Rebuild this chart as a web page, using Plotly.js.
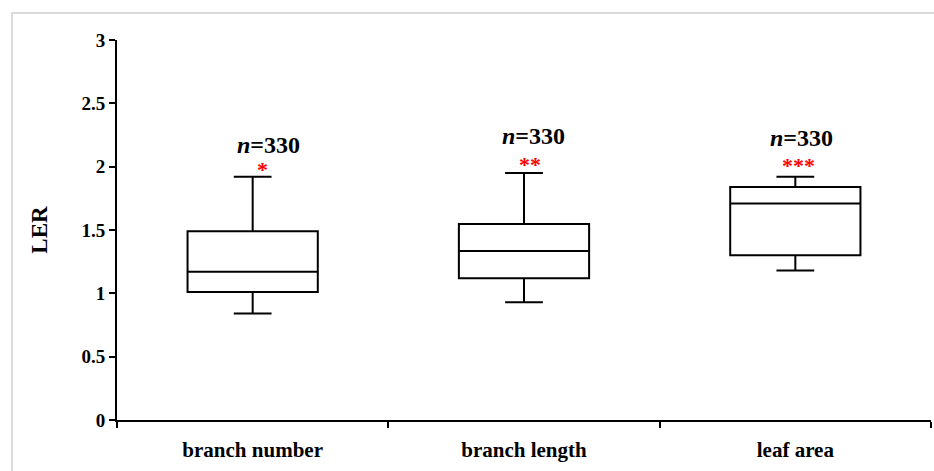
<!DOCTYPE html>
<html>
<head>
<meta charset="utf-8">
<script src="https://cdn.plot.ly/plotly-3.0.1.min.js"></script>
<style>
  html, body { margin: 0; padding: 0; background: #ffffff; }
  #wrap { position: relative; width: 934px; height: 471px; overflow: hidden; }
  #chart { position: absolute; left: 0; top: 0; width: 934px; height: 471px; }
  #frame { position: absolute; left: 11px; top: 12px; width: 1000px; height: 600px;
           border-left: 2px solid #dadada; border-top: 2px solid #dadada; pointer-events: none; }
</style>
</head>
<body>
<div id="wrap">
  <div id="chart"></div>
  <div id="frame"></div>
</div>
<script>
// ---- data ----
const categories = ["branch number", "branch length", "leaf area"];
const lowerWhisker = [0.84, 0.93, 1.18];
const q1Values     = [1.01, 1.12, 1.30];
const medianValues = [1.17, 1.335, 1.71];
const q3Values     = [1.49, 1.547, 1.84];
const upperWhisker = [1.92, 1.95, 1.92];
const sampleSizes  = [330, 330, 330];
const significance = ["*", "**", "***"];
const yTickValues  = [0, 0.5, 1, 1.5, 2, 2.5, 3];

const serif = "Liberation Serif";

const trace = {
  type: "box",
  x: categories,
  q1: q1Values,
  median: medianValues,
  q3: q3Values,
  lowerfence: lowerWhisker,
  upperfence: upperWhisker,
  width: 0.48,
  whiskerwidth: 0.29,
  fillcolor: "rgba(0,0,0,0)",
  line: { color: "#000000", width: 2 },
  boxpoints: false,
  hoverinfo: "none",
  showlegend: false
};

// label offsets (pixels) relative to the top whisker
const nShiftY = [32, 37, 39], nShiftX = [16, 9, 6];
const sShiftY = [7, 9, 11],   sShiftX = [10, 6, 3];

const annotations = [];
categories.forEach((c, i) => {
  annotations.push({
    x: c, y: upperWhisker[i], xref: "x", yref: "y",
    text: "<b><i>n</i>=" + sampleSizes[i] + "</b>",
    showarrow: false, xanchor: "center", yanchor: "middle",
    xshift: nShiftX[i], yshift: nShiftY[i],
    font: { family: serif, size: 24, color: "#000000" }
  });
  annotations.push({
    x: c, y: upperWhisker[i], xref: "x", yref: "y",
    text: "<b>" + significance[i] + "</b>",
    showarrow: false, xanchor: "center", yanchor: "middle",
    xshift: sShiftX[i], yshift: sShiftY[i],
    font: { family: serif, size: 22, color: "#ff0000" }
  });
});

const layout = {
  width: 934, height: 471,
  margin: { l: 117, r: 3, t: 40, b: 51, pad: 0 },
  paper_bgcolor: "rgba(0,0,0,0)",
  plot_bgcolor: "rgba(0,0,0,0)",
  showlegend: false,
  font: { family: serif, color: "#000000" },
  xaxis: {
    type: "category",
    range: [-0.5, 2.5],
    showgrid: false, zeroline: false,
    showline: true, linecolor: "#000000", linewidth: 2,
    ticks: "outside", tickson: "boundaries", ticklen: 6, tickwidth: 2, tickcolor: "#000000",
    tickfont: { family: serif, size: 21, color: "#000000", weight: "bold" },
    ticklabelstandoff: 10
  },
  yaxis: {
    range: [0, 3],
    tickvals: yTickValues,
    showgrid: false, zeroline: false,
    showline: true, linecolor: "#000000", linewidth: 2,
    ticks: "outside", ticklen: 6, tickwidth: 2, tickcolor: "#000000",
    tickfont: { family: serif, size: 19, color: "#000000", weight: "bold" },
    ticklabelstandoff: 0,
    title: { text: "<b>LER</b>", standoff: 27, font: { family: serif, size: 23, color: "#000000" } }
  },
  annotations: annotations
};

Plotly.newPlot("chart", [trace], layout, { staticPlot: true, displayModeBar: false });
</script>
</body>
</html>
